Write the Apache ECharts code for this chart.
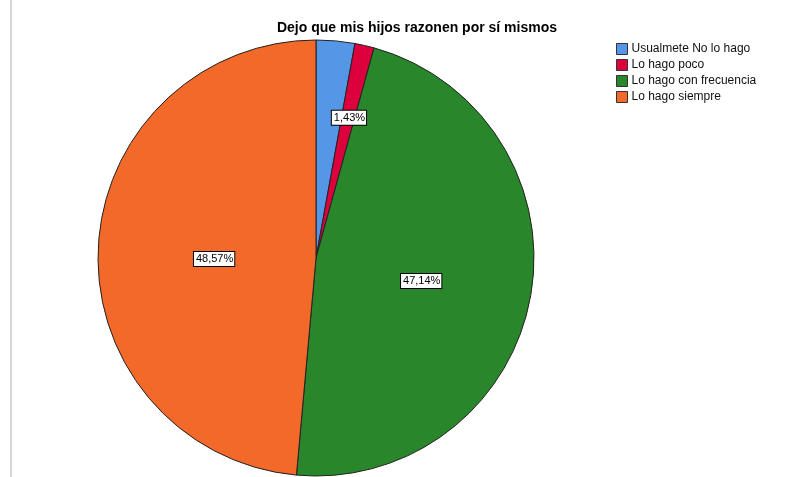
<!DOCTYPE html>
<html>
<head>
<meta charset="utf-8">
<script src="https://cdn.jsdelivr.net/npm/echarts@6/dist/echarts.min.js"></script>
<style>
  html, body { margin: 0; padding: 0; background: #fff; }
  #chart { width: 804px; height: 477px; }
  #edge { position: absolute; left: 10px; top: 0; width: 2px; height: 477px; background: #d6d6d6; }
</style>
</head>
<body>
<div id="edge"></div>
<div id="chart"></div>
<script>
// categorías y porcentajes
const categories = ['Usualmete No lo hago', 'Lo hago poco', 'Lo hago con frecuencia', 'Lo hago siempre']
const percents = [2.86, 1.43, 47.14, 48.57]
const colors = ['#5596e6', '#dc003c', '#29862a', '#f3692a']
// la etiqueta del primer sector no se ve en el original
const showLabel = [false, true, true, true]
// pequeños ajustes para acercar las etiquetas a donde las pone SPSS
const labelShift = [[0, 0], [8, -31], [-5, 3], [10, 6]]

const chart = echarts.init(document.getElementById('chart'))

const option = {
  animation: false,
  title: {
    text: 'Dejo que mis hijos razonen por sí mismos',
    left: 412,
    top: 16,
    textAlign: 'center',
    textStyle: {
      fontFamily: 'Liberation Sans, Arial',
      fontSize: 14,
      fontWeight: 'bold',
      color: '#000'
    }
  },
  legend: {
    orient: 'vertical',
    left: 611,
    top: 38,
    itemWidth: 11,
    itemHeight: 11,
    itemGap: 4,
    icon: 'rect',
    textStyle: {
      fontFamily: 'Liberation Sans, Arial',
      fontSize: 12,
      color: '#111',
      padding: [0, 0, 0, -1]
    },
    itemStyle: { borderColor: '#333', borderWidth: 1 },
    data: categories
  },
  series: [
    {
      type: 'pie',
      center: [316, 258],
      radius: [0, 218],
      startAngle: 90,
      clockwise: true,
      avoidLabelOverlap: false,
      itemStyle: { borderColor: '#222', borderWidth: 1 },
      emphasis: { disabled: true },
      label: {
        position: 'inside',
        formatter: p => p.value.toFixed(2).replace('.', ',') + '%',
        fontFamily: 'Liberation Sans, Arial',
        fontSize: 11,
        color: '#000',
        backgroundColor: '#fff',
        borderColor: '#000',
        borderWidth: 1,
        padding: [2, 1, 1, 2]
      },
      labelLine: { show: false },
      data: categories.map((name, i) => ({
        name: name,
        value: percents[i],
        itemStyle: { color: colors[i] },
        label: { show: showLabel[i], offset: labelShift[i] }
      }))
    }
  ]
}

chart.setOption(option)
</script>
</body>
</html>
